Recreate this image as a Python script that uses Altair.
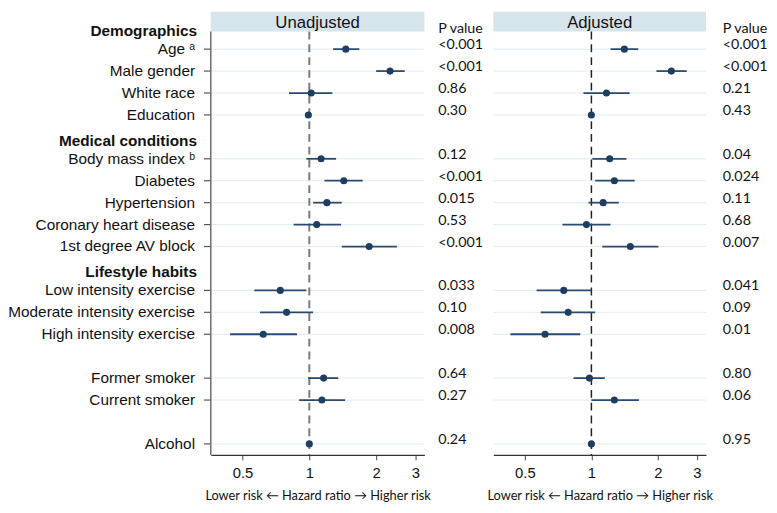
import altair as alt
import pandas as pd

# ---------------- data ----------------
rows = ["Demographics", "Age", "Male gender", "White race", "Education",
        "Medical conditions", "Body mass index", "Diabetes", "Hypertension",
        "Coronary heart disease", "1st degree AV block",
        "Lifestyle habits", "Low intensity exercise", "Moderate intensity exercise",
        "High intensity exercise", "", "Former smoker", "Current smoker", "", "Alcohol"]
headers = ["Demographics", "Medical conditions", "Lifestyle habits"]
superscripts = {"Age": "ᵃ", "Body mass index": "ᵇ"}

variables = ["Age", "Male gender", "White race", "Education", "Body mass index",
             "Diabetes", "Hypertension", "Coronary heart disease", "1st degree AV block",
             "Low intensity exercise", "Moderate intensity exercise", "High intensity exercise",
             "Former smoker", "Current smoker", "Alcohol"]

unadj_hr = [1.46, 2.31, 1.02, 0.99, 1.13, 1.43, 1.20, 1.08, 1.86, 0.74, 0.79, 0.62, 1.16, 1.14, 1.00]
unadj_lo = [1.28, 2.00, 0.81, 0.98, 0.97, 1.17, 1.04, 0.85, 1.40, 0.565, 0.60, 0.44, 0.99, 0.90, 0.99]
unadj_hi = [1.68, 2.69, 1.27, 1.00, 1.32, 1.74, 1.40, 1.39, 2.48, 0.97, 1.04, 0.88, 1.35, 1.45, 1.01]
unadj_p = ["<0.001", "<0.001", "0.86", "0.30", "0.12", "<0.001", "0.015", "0.53", "<0.001",
           "0.033", "0.10", "0.008", "0.64", "0.27", "0.24"]

adj_hr = [1.41, 2.30, 1.17, 1.00, 1.21, 1.27, 1.13, 0.95, 1.50, 0.75, 0.785, 0.617, 0.98, 1.27, 1.00]
adj_lo = [1.22, 1.97, 0.92, 0.99, 1.01, 1.04, 0.97, 0.74, 1.12, 0.565, 0.59, 0.43, 0.83, 1.00, 0.99]
adj_hi = [1.63, 2.70, 1.49, 1.01, 1.44, 1.57, 1.33, 1.22, 2.01, 1.00, 1.04, 0.89, 1.15, 1.64, 1.01]
adj_p = ["<0.001", "<0.001", "0.21", "0.43", "0.04", "0.024", "0.11", "0.68", "0.007",
         "0.041", "0.09", "0.01", "0.80", "0.06", "0.95"]

x_ticks = [0.5, 1, 2, 3]
x_title = "Lower risk \u2190 Hazard ratio \u2192 Higher risk"

# ---------------- layout ----------------
H = 450
HEAD = 20
NAVY = "#1e3d62"
LINE = "#284a70"
yscale = alt.Scale(domain=[-0.7, 19.5], reverse=True, nice=False, zero=False)
xscale = alt.Scale(type="log", domain=[0.36, 3.3], nice=False)
LABEL_FONT = "Liberation Sans"
NUM_FONT = "Lato"

row_index = {name: i for i, name in enumerate(rows) if name}


def Y():
    return alt.Y("row:Q", scale=yscale, axis=None)


xaxis = alt.Axis(values=x_ticks, format="~g", title=x_title, grid=False,
                 labelFont=LABEL_FONT, labelFontSize=15, labelColor="#111",
                 labelPadding=6, tickSize=5, tickColor="#444", domainColor="#333",
                 domainWidth=1.3, titleFont=NUM_FONT, titleFontSize=13,
                 titleFontWeight="normal", titleColor="#111", titlePadding=9)


def forest(hr, lo, hi, title, W, dash_color, dash_width, axis_line):
    df = pd.DataFrame({"var": variables, "hr": hr, "lo": lo, "hi": hi,
                       "row": [row_index[v] for v in variables]})
    base = alt.Chart(df)
    grid = base.mark_rule(color="#e2eaf0", strokeWidth=1).encode(
        x=alt.value(0), x2=alt.value(W), y=Y())
    tdf = pd.DataFrame({"t": [title], "one": [1.0]})
    header = alt.Chart(tdf).mark_rect(color="#d6e4ec").encode(
        x=alt.value(0), x2=alt.value(W), y=alt.value(0), y2=alt.value(HEAD))
    htext = alt.Chart(tdf).mark_text(font=LABEL_FONT, fontSize=17, color="#111",
                                     baseline="middle").encode(
        text="t:N", x=alt.value(W / 2), y=alt.value(HEAD / 2 + 1))
    ref = alt.Chart(tdf).mark_rule(color=dash_color, strokeWidth=dash_width,
                                   strokeDash=[8, 5]).encode(
        x=alt.X("one:Q", scale=xscale, axis=xaxis), y=alt.value(HEAD), y2=alt.value(H))
    err = base.mark_rule(color=LINE, strokeWidth=1.8).encode(
        x=alt.X("lo:Q", scale=xscale, axis=xaxis), x2="hi:Q", y=Y())
    pts = base.mark_circle(size=52, color=NAVY, opacity=1).encode(
        x=alt.X("hr:Q", scale=xscale, axis=xaxis), y=Y())
    layers = [grid, header, htext, ref, err, pts]
    if axis_line:
        layers.append(alt.Chart(tdf).mark_rule(color="#6d6d6d", strokeWidth=1.5).encode(
            x=alt.value(0), y=alt.value(HEAD), y2=alt.value(H)))
    return alt.layer(*layers).properties(width=W, height=H)


def pcol(pvals, W, xpos):
    df = pd.DataFrame({"p": pvals, "row": [row_index[v] for v in variables]})
    vals = alt.Chart(df).mark_text(font=NUM_FONT, fontSize=14.5, color="#111", align="left",
                                   baseline="middle", dy=-4).encode(
        x=alt.value(xpos), y=Y(), text="p:N")
    head = alt.Chart(pd.DataFrame({"t": ["P value"]})).mark_text(
        font=NUM_FONT, fontSize=14.5, color="#111", align="left", baseline="middle").encode(
        x=alt.value(xpos), y=alt.value(17), text="t:N")
    return alt.layer(vals, head).properties(width=W, height=H)


# label panel
lab = pd.DataFrame({"label": [r + (" " + superscripts[r] if r in superscripts else "") for r in rows],
                    "row": list(range(len(rows))),
                    "kind": ["head" if r in headers else ("var" if r else "blank") for r in rows]})
lab = lab[lab.kind != "blank"]
lab_base = alt.Chart(lab)
var_text = lab_base.transform_filter(alt.datum.kind == "var").mark_text(
    font=LABEL_FONT, fontSize=15.6, color="#111", align="right", baseline="middle").encode(
    x=alt.value(186), y=Y(), text="label:N")
head_text = lab_base.transform_filter(alt.datum.kind == "head").mark_text(
    font=LABEL_FONT, fontSize=15.6, fontWeight="bold", color="#111", align="right",
    baseline="middle", dy=4).encode(x=alt.value(188), y=Y(), text="label:N")
ticks = lab_base.transform_filter(alt.datum.kind == "var").mark_rule(
    color="#555", strokeWidth=1.2).encode(x=alt.value(195), x2=alt.value(202), y=Y())
labels_panel = alt.layer(var_text, head_text, ticks).properties(width=202, height=H)

left = forest(unadj_hr, unadj_lo, unadj_hi, "Unadjusted", 217, "#7a7a7a", 2, True)
right = forest(adj_hr, adj_lo, adj_hi, "Adjusted", 216, "#222222", 1.5, False)

chart = alt.hconcat(labels_panel, left, pcol(unadj_p, 70, 14), right, pcol(adj_p, 56, 17),
                    spacing=0, bounds="flush").properties(padding=0).configure_view(stroke=None)

chart.save("out.html", embed_options={"renderer": "svg", "actions": False})
